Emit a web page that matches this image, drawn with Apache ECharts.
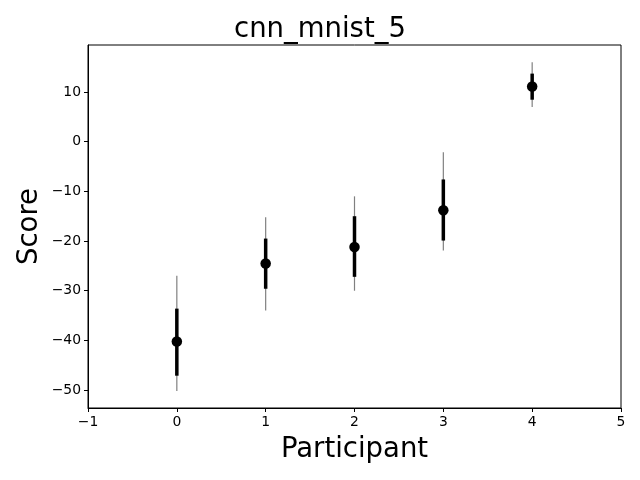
<!DOCTYPE html>
<html><head><meta charset="utf-8">
<script src="https://cdn.jsdelivr.net/npm/echarts@6/dist/echarts.min.js"></script>
<style>html,body{margin:0;padding:0;background:#fff}#c{width:640px;height:480px}</style>
</head><body><div id="c"></div>
<script>
const participants = [0, 1, 2, 3, 4];
const means = [-40.2, -24.5, -21.2, -13.8, 11.1];
const innerLow = [-47.1, -29.6, -27.2, -19.9, 8.45];
const innerHigh = [-33.6, -19.5, -15.0, -7.6, 13.7];
const outerLow = [-50.2, -34.0, -30.0, -21.9, 7.0];
const outerHigh = [-27.0, -15.2, -11.0, -2.15, 16.0];
const xTicks = [-1, 0, 1, 2, 3, 4, 5];
const yTicks = [-50, -40, -30, -20, -10, 0, 10];

const font = 'DejaVu Sans';
const chart = echarts.init(document.getElementById('c'), null, {renderer: 'canvas'});
const fmt = v => (v < 0 ? '\u2212' + Math.abs(v) : String(v));

function barSeries(lows, highs, color, width, z) {
  return {
    type: 'custom',
    z: z,
    data: participants.map((p, i) => [p, lows[i], highs[i]]),
    renderItem: function (params, api) {
      const a = api.coord([api.value(0), api.value(1)]);
      const b = api.coord([api.value(0), api.value(2)]);
      return {
        type: 'line',
        shape: {x1: a[0], y1: a[1], x2: b[0], y2: b[1]},
        style: {stroke: color, lineWidth: width}
      };
    }
  };
}

chart.setOption({
  animation: false,
  title: {
    text: 'cnn_mnist_5', left: 'center', top: 11,
    textStyle: {fontFamily: font, fontSize: 27.5, fontWeight: 'normal', color: '#000'}
  },
  graphic: [{
    type: 'text', x: 30, y: 226.5, rotation: Math.PI / 2,
    style: {text: 'Score', fontFamily: font, fontSize: 27.5, fill: '#000',
      align: 'center', verticalAlign: 'middle'}
  }],
  grid: {left: 88, right: 19, top: 45, bottom: 72, show: true, borderColor: '#000', borderWidth: 1},
  xAxis: {
    type: 'value', min: -1, max: 5, interval: 1,
    name: 'Participant', nameLocation: 'middle', nameGap: 28,
    nameTextStyle: {fontFamily: font, fontSize: 27.5, color: '#000'},
    axisLine: {show: true, onZero: false, lineStyle: {color: '#000'}},
    axisTick: {show: true, inside: false, length: 4, lineStyle: {color: '#000'}},
    axisLabel: {fontFamily: font, fontSize: 13.9, color: '#000', margin: 7, formatter: fmt},
    splitLine: {show: false}
  },
  yAxis: {
    type: 'value', min: -53.6, max: 19.46,
    axisLine: {show: true, onZero: false, lineStyle: {color: '#000'}},
    axisTick: {show: true, inside: false, length: 4, lineStyle: {color: '#000'},
      customValues: yTicks},
    axisLabel: {fontFamily: font, fontSize: 13.9, color: '#000', margin: 7,
      customValues: yTicks, formatter: fmt},
    splitLine: {show: false}
  },
  series: [
    barSeries(outerLow, outerHigh, '#808080', 1.2, 1),
    barSeries(innerLow, innerHigh, '#000000', 3.5, 2),
    {
      type: 'scatter', z: 3,
      data: participants.map((p, i) => [p, means[i]]),
      symbol: 'circle', symbolSize: 10.5,
      itemStyle: {color: '#000', opacity: 1}
    }
  ]
});
</script></body></html>
